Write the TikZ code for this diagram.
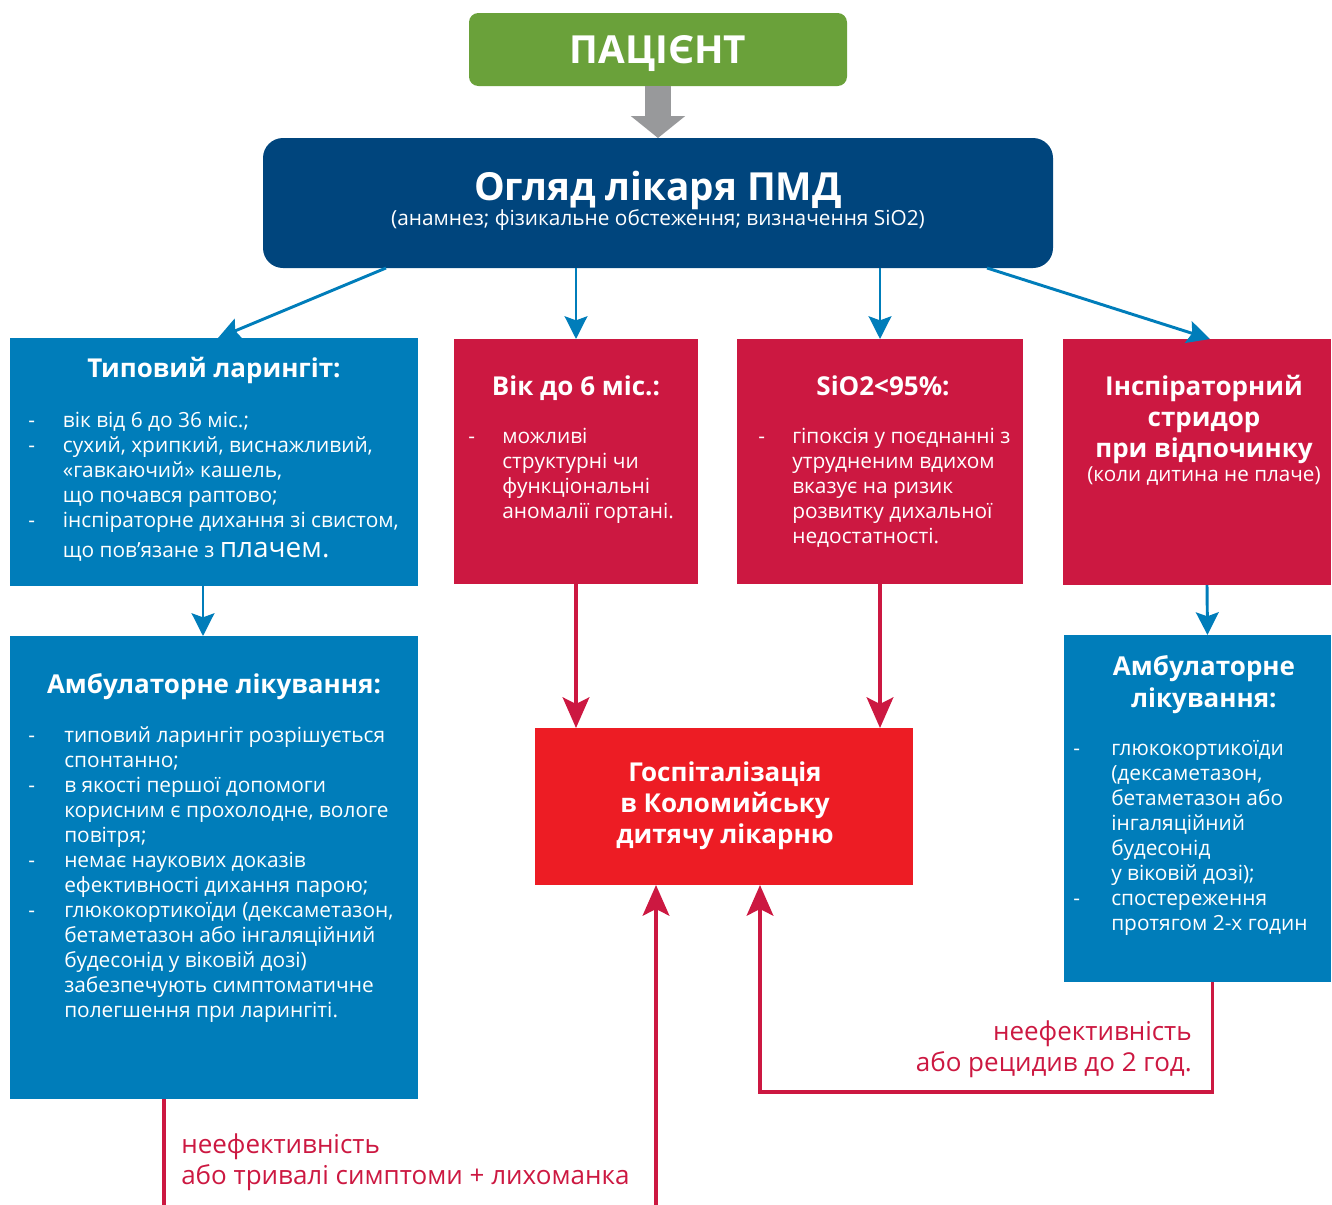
\documentclass[tikz,border=0pt]{standalone}
\usepackage{fontspec}
\setmainfont{Open Sans}
\usetikzlibrary{arrows.meta,calc,fit}

\definecolor{patgreen}{HTML}{6AA13A}
\definecolor{navy}{HTML}{00457D}
\definecolor{sky}{HTML}{007DBA}
\definecolor{crim}{HTML}{CC1841}
\definecolor{hred}{HTML}{ED1C24}
\definecolor{arrgray}{HTML}{98999B}

\newcommand{\dashlist}[2]{\begin{tabular}[t]{@{}p{#1}@{}l@{}}#2\end{tabular}}
\newcommand{\stacklines}[2]{\begin{tabular}[t]{@{}#1@{}}#2\end{tabular}}

\tikzset{
    box/.style={inner sep=0pt, outer sep=0pt, draw=none},
    bluebox/.style={box, fill=sky},
    redbox/.style={box, fill=crim},
    txt/.style={inner sep=0pt, text=white},
    head/.style={txt, font=\fontsize{19.5}{23.6}\selectfont\bfseries},
    body/.style={txt, font=\fontsize{15.65}{18.75}\selectfont},
    note/.style={inner sep=0pt, text=crim, font=\fontsize{19.5}{23.6}\selectfont},
    grayarrow/.style={draw=arrgray, line width=20pt, -{Triangle[length=16.5pt,width=40pt]}},
    bluearrow/.style={draw=sky, line width=2.2pt, -{Stealth[length=17pt,width=17pt,inset=3pt]}},
    redarrow/.style={draw=crim, line width=2.6pt, -{Stealth[length=23pt,width=20pt,inset=5pt]}},
}

\begin{document}
\begin{tikzpicture}[x=0.75pt, y=-0.75pt]
    \useasboundingbox (0,0) rectangle (1332,1204);

    % boxes
    \node[box, fill=patgreen, rounded corners=7pt, fit={(469,13) (847,86)}] (pat) {};
    \node[box, fill=navy, rounded corners=15pt, fit={(263,138) (1053,268)}] (exam) {};
    \node[bluebox, fit={(10,338) (418,586)}] (lar) {};
    \node[redbox, fit={(454,339) (698,584)}] (age) {};
    \node[redbox, fit={(737,339) (1023,584)}] (sat) {};
    \node[redbox, fit={(1063,339) (1331,585)}] (strid) {};
    \node[bluebox, fit={(10,636) (418,1099)}] (amb) {};
    \node[bluebox, fit={(1064,635) (1331,982)}] (ambR) {};
    \node[box, fill=hred, fit={(535,728) (913,885)}] (hosp) {};

    % texts
    \node[txt, font=\fontsize{29}{34}\selectfont\bfseries, anchor=base] (patT) at (658,63) {ПАЦІЄНТ};
    \node[txt, font=\fontsize{29}{31}\selectfont\bfseries, anchor=base] (examT) at (658,200) {Огляд лікаря ПМД};
    \node[txt, font=\fontsize{15.6}{18}\selectfont, anchor=base] (examS) at (658,225)
        {(анамнез; фізикальне обстеження; визначення SiO2)};

    \node[head, anchor=base] (larT) at (214,377) {Типовий ларингіт:};
    \node[body, anchor=base west] (larL) at (28,427) {\dashlist{26pt}{
        - & вік від 6 до 36 міс.;\\
        - & сухий, хрипкий, виснажливий,\\
          & «гавкаючий» кашель,\\
          & що почався раптово;\\
        - & інспіраторне дихання зі свистом,\\[3.75pt]
          & що пов’язане з {\fontsize{21}{25}\selectfont плачем.}}};

    \node[head, anchor=base] (ageT) at (576,395) {Вік до 6 міс.:};
    \node[body, anchor=base west] (ageL) at (468,443) {\dashlist{25.5pt}{
        - & можливі\\
          & структурні чи\\
          & функціональні\\
          & аномалії гортані.}};

    \node[head, anchor=base] (satT) at (883,395) {SiO2<95\%:};
    \node[body, anchor=base west] (satL) at (758,443) {\dashlist{25.5pt}{
        - & гіпоксія у поєднанні з\\
          & утрудненим вдихом\\
          & вказує на ризик\\
          & розвитку дихальної\\
          & недостатності.}};

    \node[head, anchor=base] (stridT) at (1204,395) {\stacklines{c}{
        Інспіраторний\\
        стридор\\
        при відпочинку\\[-6.3pt]
        {\mdseries\fontsize{15.5}{18}\selectfont (коли дитина не плаче)}}};

    \node[head, anchor=base] (ambT) at (214,693) {Амбулаторне лікування:};
    \node[body, anchor=base west] (ambL) at (28,742) {\dashlist{27pt}{
        - & типовий ларингіт розрішується\\
          & спонтанно;\\
        - & в якості першої допомоги\\
          & корисним є прохолодне, вологе\\
          & повітря;\\
        - & немає наукових доказів\\
          & ефективності дихання парою;\\
        - & глюкокортикоїди (дексаметазон,\\
          & бетаметазон або інгаляційний\\
          & будесонід у віковій дозі)\\
          & забезпечують симптоматичне\\
          & полегшення при ларингіті.}};

    \node[head, font=\fontsize{19.5}{24}\selectfont\bfseries, anchor=base] (ambRT) at (1204,675)
        {\stacklines{c}{Амбулаторне\\лікування:}};
    \node[body, anchor=base west] (ambRL) at (1073,755) {\dashlist{28.5pt}{
        - & глюкокортикоїди\\
          & (дексаметазон,\\
          & бетаметазон або\\
          & інгаляційний\\
          & будесонід\\
          & у віковій дозі);\\
        - & спостереження\\
          & протягом 2-х годин}};

    \node[head, font=\fontsize{19.5}{23.25}\selectfont\bfseries, anchor=base] (hospT) at (725,781)
        {\stacklines{c}{Госпіталізація\\в Коломийську\\дитячу лікарню}};

    \node[note, anchor=base east] (noteR) at (1192,1040)
        {\stacklines{r}{неефективність\\або рецидив до 2 год.}};
    \node[note, anchor=base west] (noteL) at (181,1153)
        {\stacklines{l}{неефективність\\або тривалі симптоми + лихоманка}};

    % arrows
    \draw[grayarrow] (pat) -- (exam);

    \draw[bluearrow] ($(exam.south)+(-272,0)$) -- ($(lar.north)+(4,0)$);
    \draw[bluearrow] (exam.south -| age.north) -- (age.north);
    \draw[bluearrow] (exam.south -| sat.north) -- (sat.north);
    \draw[bluearrow] ($(exam.south)+(329,0)$) -- ($(strid.north)+(13,0)$);
    \draw[bluearrow] ($(lar.south)+(-11,0)$) -- ($(amb.north)+(-11,0)$);
    \draw[bluearrow] ($(strid.south)+(10,0)$) -- ($(ambR.north)+(10,0)$);

    \draw[redarrow] (age.south) -- (age.south |- hosp.north);
    \draw[redarrow] (sat.south) -- (sat.south |- hosp.north);
    \draw[redarrow] ($(amb.south)+(-50,0)$) -- ++(0,140) -| ($(hosp.south)+(-68,0)$);
    \draw[redarrow] ($(ambR.south)+(15,0)$) -- ++(0,110) -| ($(hosp.south)+(36,0)$);
\end{tikzpicture}
\end{document}
